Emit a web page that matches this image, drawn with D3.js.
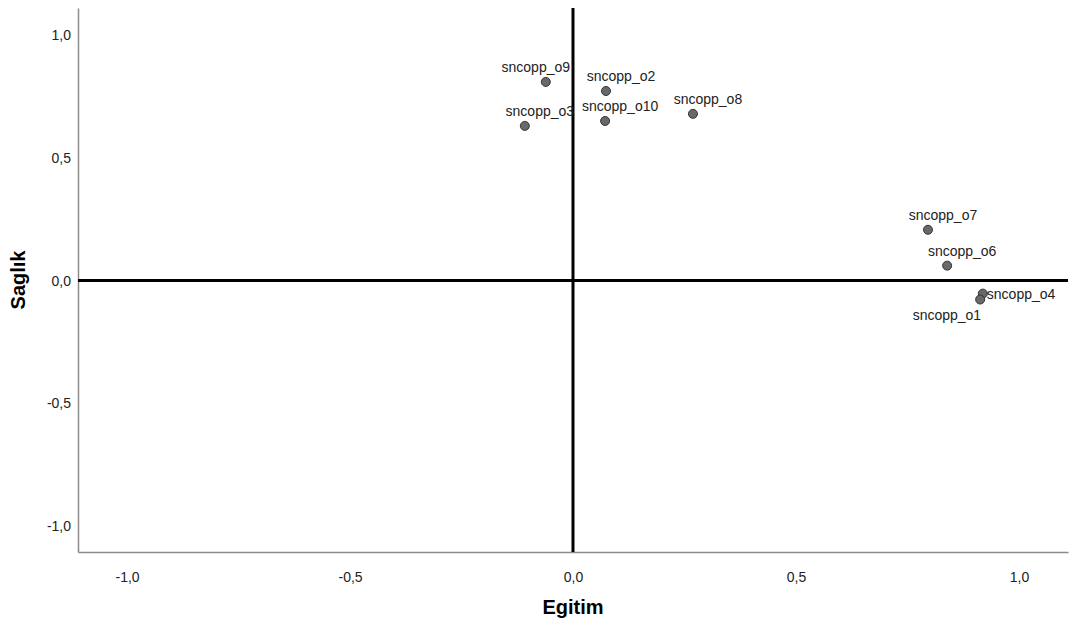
<!DOCTYPE html>
<html>
<head>
<meta charset="utf-8">
<script src="https://cdn.jsdelivr.net/npm/d3@7"></script>
<style>
  body { margin: 0; background: #fff; }
  text { font-family: "Liberation Sans", Arial, sans-serif; }
</style>
</head>
<body>
<div id="chart"></div>
<script>
// points
var names = ["sncopp_o9", "sncopp_o2", "sncopp_o3", "sncopp_o10", "sncopp_o8",
             "sncopp_o7", "sncopp_o6", "sncopp_o4", "sncopp_o1"];
var egitim = [-0.061, 0.074, -0.108, 0.072, 0.269, 0.796, 0.839, 0.919, 0.913];
var saglik = [0.809, 0.772, 0.630, 0.650, 0.679, 0.207, 0.061, -0.053, -0.077];
var labelSide = ["left", "above", "above", "above", "above", "above", "above", "right", "below"];
var ticks = [-1.0, -0.5, 0.0, 0.5, 1.0];

var W = 1073, H = 626;
var margin = { top: 8, right: 5, bottom: 74, left: 78 };
var width = W - margin.left - margin.right,
    height = H - margin.top - margin.bottom;

var svg = d3.select("#chart").append("svg")
    .attr("width", W)
    .attr("height", H)
    .append("g")
    .attr("transform", "translate(" + margin.left + "," + margin.top + ")");

var x = d3.scaleLinear().domain([-1.11, 1.11]).range([0, width]);
var y = d3.scaleLinear().domain([-1.105, 1.11]).range([height, 0]);

// comma decimals, plain hyphen for minus
var fmt = function (d) { return d3.format(".1f")(d).replace(".", ",").replace("\u2212", "-"); };

// axes (no tick marks, gray lines)
var xAxis = svg.append("g")
    .attr("transform", "translate(0," + height + ")")
    .call(d3.axisBottom(x).tickValues(ticks).tickSize(0).tickPadding(20).tickFormat(fmt));
var yAxis = svg.append("g")
    .call(d3.axisLeft(y).tickValues(ticks).tickSize(0).tickPadding(7).tickFormat(fmt));

[xAxis, yAxis].forEach(function (a) {
    a.select(".domain").attr("stroke", "#8c8c8c").attr("stroke-width", 1.5);
    a.selectAll("text").attr("font-size", 14).attr("fill", "#222")
        .style("font-family", "'Liberation Sans', Arial, sans-serif");
});

// reference lines at zero
svg.append("line")
    .attr("x1", 0).attr("x2", width)
    .attr("y1", y(0)).attr("y2", y(0))
    .attr("stroke", "#000").attr("stroke-width", 3);
svg.append("line")
    .attr("x1", x(0)).attr("x2", x(0))
    .attr("y1", 0).attr("y2", height)
    .attr("stroke", "#000").attr("stroke-width", 3);

// axis titles
svg.append("text")
    .attr("x", width / 2).attr("y", height + 62)
    .attr("text-anchor", "middle")
    .attr("font-size", 20).attr("font-weight", "bold")
    .text("Egitim");
svg.append("text")
    .attr("transform", "translate(" + (-53) + "," + (height / 2) + ") rotate(-90)")
    .attr("text-anchor", "middle")
    .attr("font-size", 20).attr("font-weight", "bold")
    .text("Saglık");

var data = names.map(function (n, i) {
    return { name: n, ex: egitim[i], sy: saglik[i], side: labelSide[i] };
});

// points
svg.selectAll("circle.pt")
    .data(data)
    .enter().append("circle")
    .attr("class", "pt")
    .attr("cx", function (d) { return x(d.ex); })
    .attr("cy", function (d) { return y(d.sy); })
    .attr("r", 4.5)
    .attr("fill", "#696969")
    .attr("stroke", "#333")
    .attr("stroke-width", 1);

// point labels
svg.selectAll("text.lbl")
    .data(data)
    .enter().append("text")
    .attr("class", "lbl")
    .attr("font-size", 14)
    .attr("fill", "#222")
    .attr("x", function (d) {
        var px = x(d.ex);
        if (d.side == "right") return px + 4;
        if (d.side == "below") return px + 1;
        if (d.side == "left") return px - 10;
        return px + 15;
    })
    .attr("y", function (d) {
        var py = y(d.sy);
        if (d.side == "right") return py + 5;
        if (d.side == "below") return py + 20;
        return py - 10;
    })
    .attr("text-anchor", function (d) {
        if (d.side == "right") return "start";
        if (d.side == "below") return "end";
        return "middle";
    })
    .text(function (d) { return d.name; });
</script>
</body>
</html>
